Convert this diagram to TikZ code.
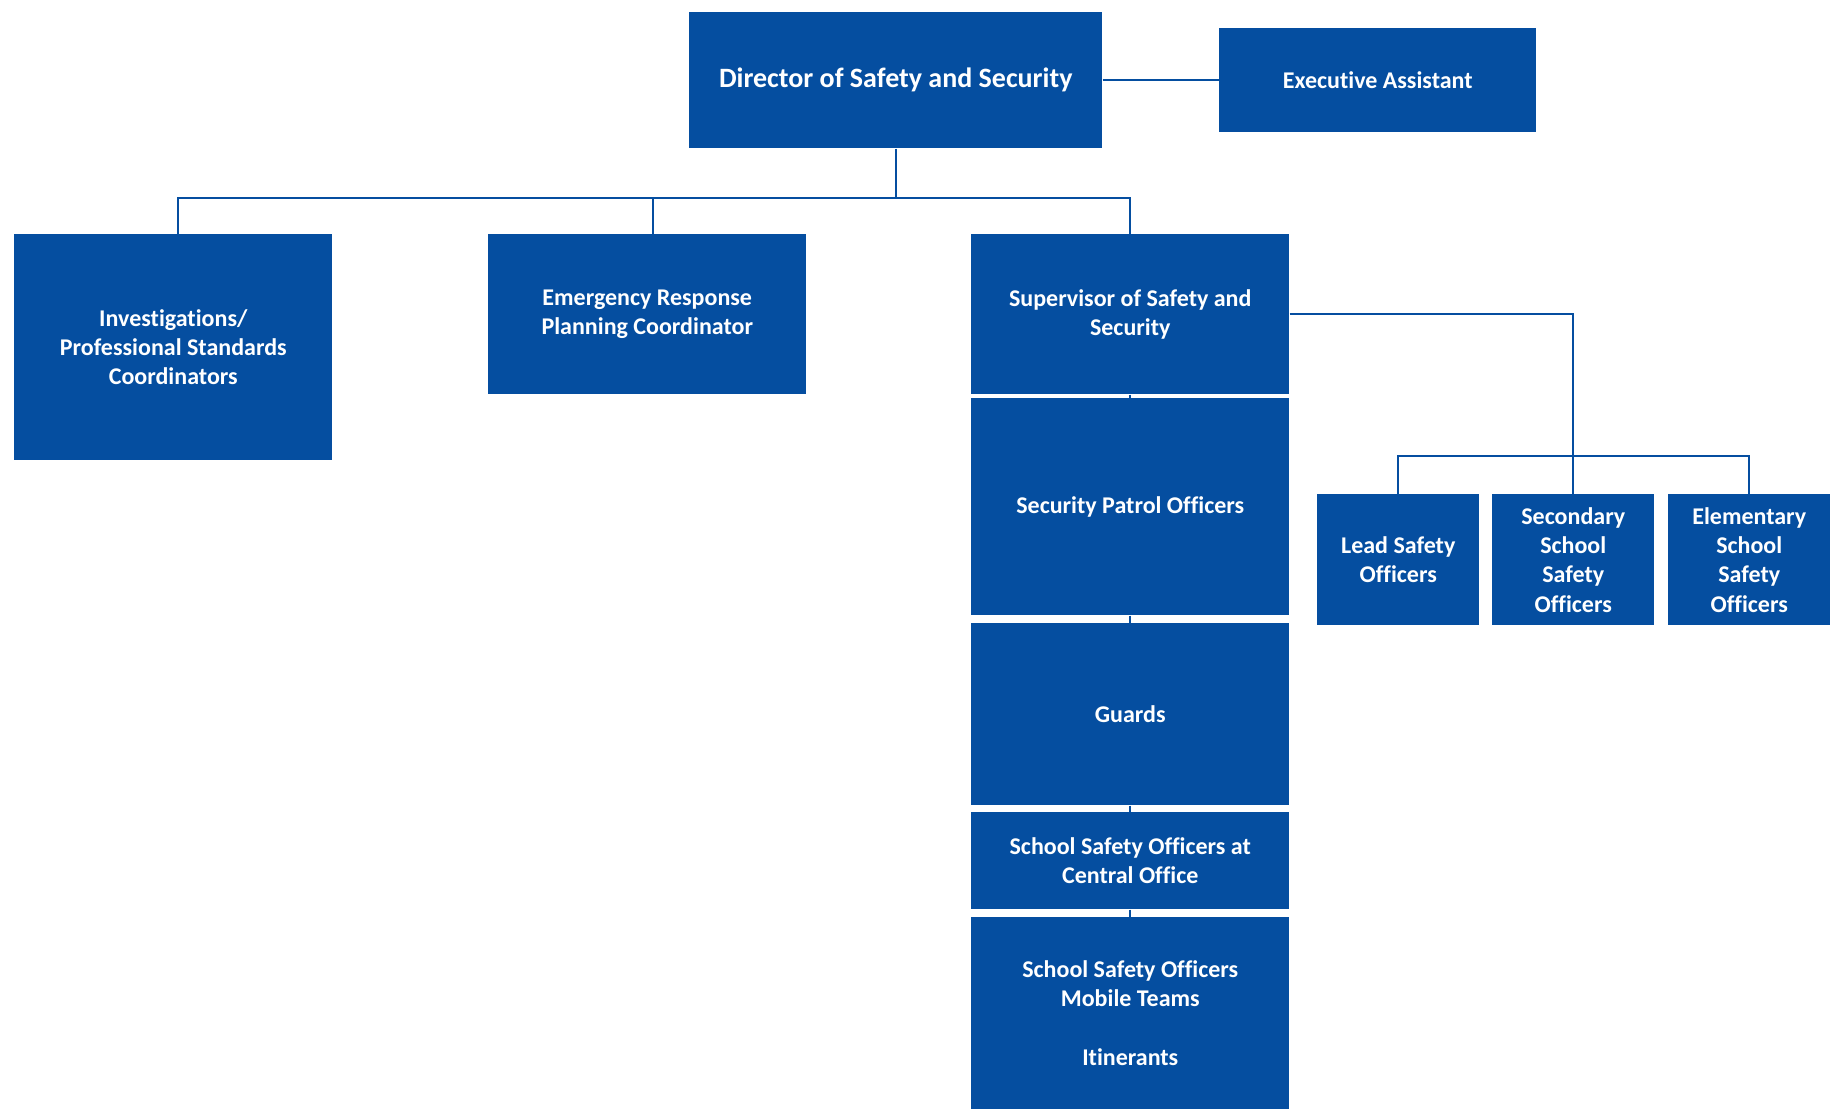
\documentclass[tikz,border=0pt]{standalone}
\usepackage{fontspec}
\setmainfont{Carlito}[Ligatures=NoCommon]
\usepackage{tikz}
\definecolor{orgblue}{HTML}{054EA0}

\begin{document}
\begin{tikzpicture}[x=0.75pt, y=-0.75pt,
    box/.style={fill=orgblue, text=white, align=center, inner sep=0pt, anchor=north west,
        font=\bfseries\fontsize{18}{22}\selectfont},
    link/.style={draw=orgblue, line width=1.5pt}]
    \useasboundingbox (0,0) rectangle (1832,1109);

    % Top row
    \node[box, minimum width=309.75pt, minimum height=102pt, font=\bfseries\fontsize{21}{25}\selectfont]
        (dir) at (689,12) {Director of Safety and Security};
    \node[box, minimum width=237.75pt, minimum height=78pt] (exec) at (1219,28) {Executive Assistant};

    % Second row
    \node[box, minimum width=238.5pt, minimum height=169.5pt] (inv) at (14,234)
        {Investigations/\\Professional Standards\\Coordinators};
    \node[box, minimum width=238.5pt, minimum height=120pt] (emr) at (488,234)
        {Emergency Response\\Planning Coordinator};
    \node[box, minimum width=238.5pt, minimum height=120pt] (sup) at (971,234)
        {Supervisor of Safety and\\Security};

    % Stack under the supervisor
    \node[box, minimum width=238.5pt, minimum height=162.75pt] (patrol) at (971,398) {Security Patrol Officers};
    \node[box, minimum width=238.5pt, minimum height=136.5pt] (guards) at (971,623) {Guards};
    \node[box, minimum width=238.5pt, minimum height=72.75pt] (central) at (971,812)
        {School Safety Officers at\\Central Office};
    \node[box, minimum width=238.5pt, minimum height=144pt] (mobile) at (971,917)
        {School Safety Officers\\Mobile Teams\\[22pt]Itinerants};

    % School officers
    \node[box, minimum width=121.5pt, minimum height=98.25pt] (lead) at (1317,494) {Lead Safety\\Officers};
    \node[box, minimum width=121.5pt, minimum height=98.25pt] (sec) at (1492,494)
        {Secondary\\School\\Safety\\Officers};
    \node[box, minimum width=121.5pt, minimum height=98.25pt] (elem) at (1668,494)
        {Elementary\\School\\Safety\\Officers};

    % Connectors
    \path (dir.south) ++(0,49.5) coordinate (bus1);
    \path (sec.north) ++(0,-38) coordinate (bus2);
    \draw[link] (dir) -- (exec);
    \draw[link] (dir) -- (bus1) -| ([xshift=3.5pt]inv.north);
    \draw[link] (bus1) -| ([xshift=4.5pt]emr.north);
    \draw[link] (bus1) -| (sup);
    \draw[link] (sup) -- (patrol);
    \draw[link] (patrol) -- (guards);
    \draw[link] (guards) -- (central);
    \draw[link] (central) -- (mobile);
    \draw[link] (sup.east) -| (sec);
    \draw[link] (bus2) -| (lead);
    \draw[link] (bus2) -| (elem);

\end{tikzpicture}
\end{document}
